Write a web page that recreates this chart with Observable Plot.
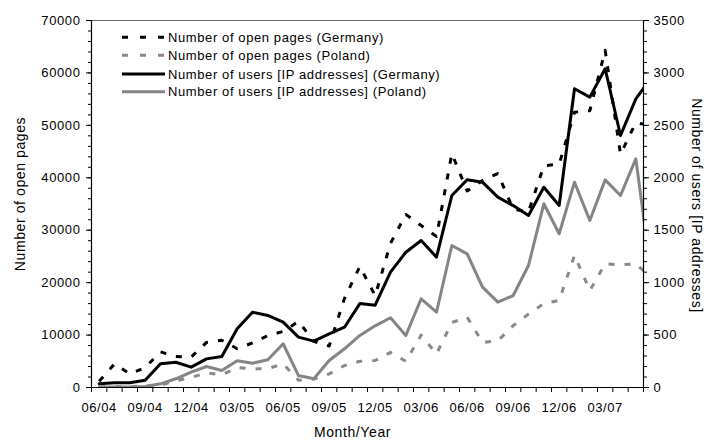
<!DOCTYPE html>
<html>
<head>
<meta charset="utf-8">
<script src="https://cdn.jsdelivr.net/npm/d3@7"></script>
<script src="https://cdn.jsdelivr.net/npm/@observablehq/plot@0.6"></script>
<style>
  html, body { margin: 0; padding: 0; background: #fff; }
  svg text { letter-spacing: 0.6px; }
</style>
</head>
<body>
<div id="chart"></div>
<script>
// Months (index 0 = 06/04); last value 06/07 lies just beyond the right axis and is clipped
const months = ["06/04","07/04","08/04","09/04","10/04","11/04","12/04","01/05","02/05","03/05","04/05","05/05",
  "06/05","07/05","08/05","09/05","10/05","11/05","12/05","01/06","02/06","03/06","04/06","05/06",
  "06/06","07/06","08/06","09/06","10/06","11/06","12/06","01/07","02/07","03/07","04/07","05/07","06/07"];
const tickLabels = ["06/04","09/04","12/04","03/05","06/05","09/05","12/05","03/06","06/06","09/06","12/06","03/07"];

// Number of open pages (left axis)
const pagesGermany = [1200,4500,2600,3800,6800,5900,5800,8600,9000,7400,8500,9900,
  10700,12600,8800,7900,17000,23100,17500,27500,33000,30900,28800,44600,
  37500,39500,40800,34000,33500,42300,42600,52500,52800,64300,44500,50500,50000];
const pagesPoland = [100,150,200,250,400,1300,1900,2800,2400,3800,3600,3600,
  4500,1400,1600,2600,4200,5000,5150,6700,5000,10000,6400,12400,
  13400,8600,8900,11800,14000,16000,16600,25200,18500,23600,23400,23600,21000];
// Number of users [IP addresses] (right axis)
const usersGermany = [35,45,45,70,226,241,194,273,296,560,718,687,
  623,480,442,512,575,800,785,1100,1290,1402,1243,1831,
  1981,1958,1815,1735,1640,1910,1736,2849,2769,3040,2403,2753,2953];
const usersPoland = [5,5,5,10,35,83,146,200,162,255,232,264,
  417,114,83,258,369,496,588,665,496,846,718,1354,
  1275,957,814,877,1164,1752,1466,1958,1593,1980,1831,2181,1084];

const leftTicks = [0,10000,20000,30000,40000,50000,60000,70000];
const rightTicks = [0,500,1000,1500,2000,2500,3000,3500];
const RATIO = 70000 / 3500;

const toRows = (arr, k = 1) => arr.map((v, i) => ({i, v: v * k}));

const series = [
  {name: "Number of open pages (Germany)", rows: toRows(pagesGermany), stroke: "#000", dash: "6,10"},
  {name: "Number of open pages (Poland)", rows: toRows(pagesPoland), stroke: "#8a8a8a", dash: "6,10"},
  {name: "Number of users [IP addresses] (Germany)", rows: toRows(usersGermany, RATIO), stroke: "#000", dash: null},
  {name: "Number of users [IP addresses] (Poland)", rows: toRows(usersPoland, RATIO), stroke: "#858585", dash: null}
];

const nCat = 36;
const plot = Plot.plot({
  width: 706,
  height: 443,
  marginLeft: 91,
  marginRight: 63,
  marginTop: 20,
  marginBottom: 56,
  style: {fontFamily: "'Liberation Sans', Arial, sans-serif", fontSize: "13px", color: "#000", background: "#fff"},
  x: {type: "linear", domain: [-0.5, nCat - 0.5], axis: null},
  y: {domain: [0, 70000], axis: null},
  marks: [
    Plot.ruleY([70000], {stroke: "#666", strokeWidth: 1.2}),
    // left axis
    Plot.axisY(d3.range(0, 70001, 2000), {anchor: "left", tickSize: 3, tickFormat: () => "", label: null}),
    Plot.axisY(leftTicks, {anchor: "left", tickSize: 5, tickPadding: 6, tickFormat: d => String(d), label: null}),
    // right axis
    Plot.axisY(d3.range(0, 70001, 2000), {anchor: "right", tickSize: 3, tickFormat: () => "", label: null}),
    Plot.axisY(rightTicks.map(v => v * RATIO), {anchor: "right", tickSize: 5, tickPadding: 5, tickFormat: d => String(d / RATIO), label: null}),
    // x axis
    Plot.axisX(d3.range(-0.5, nCat, 1), {anchor: "bottom", tickSize: 5, tickFormat: () => "", label: null}),
    Plot.axisX(tickLabels.map(t => months.indexOf(t)), {anchor: "bottom", tickSize: 0, tickPadding: 15, tickFormat: i => months[i], label: null}),
    // data lines
    ...series.map(s => Plot.line(s.rows, {
      x: "i", y: "v", stroke: s.stroke, strokeWidth: 3,
      strokeDasharray: s.dash || undefined,
      strokeLinecap: s.dash ? "butt" : "round",
      strokeLinejoin: "round",
      clip: true
    })),
    Plot.ruleX([-0.5], {stroke: "#000", strokeWidth: 1.2}),
    Plot.ruleX([nCat - 0.5], {stroke: "#000", strokeWidth: 1.2}),
    Plot.ruleY([0], {stroke: "#000", strokeWidth: 1.2}),
    // axis titles
    Plot.text(["Number of open pages"], {frameAnchor: "left", textAnchor: "middle", lineAnchor: "middle", dx: -71, dy: -10, rotate: -90, fontSize: 14}),
    Plot.text(["Number of users [IP addresses]"], {frameAnchor: "right", textAnchor: "middle", lineAnchor: "middle", dx: 53, dy: 1.5, rotate: 90, fontSize: 14}),
    Plot.text(["Month/Year"], {frameAnchor: "bottom", textAnchor: "middle", dx: -15, dy: 49, fontSize: 14})
  ]
});

// Legend (top-left inside the plot area)
const svg = d3.select(plot);
const lg = svg.append("g").attr("class", "legend").attr("text-anchor", "start");
const rowY = [37.3, 55.3, 74, 91.7];
series.forEach((s, k) => {
  const y = rowY[k];
  const ln = lg.append("line").attr("x1", 122).attr("x2", 165).attr("y1", y).attr("y2", y)
    .attr("stroke", s.stroke).attr("stroke-width", 3);
  if (s.dash) ln.attr("stroke-dasharray", "6,12");
  lg.append("text").attr("x", 168).attr("y", y).attr("dy", "0.36em")
    .attr("text-anchor", "start")
    .attr("font-size", 13).attr("fill", "#000").text(s.name);
});

document.getElementById("chart").appendChild(plot);
</script>
</body>
</html>
